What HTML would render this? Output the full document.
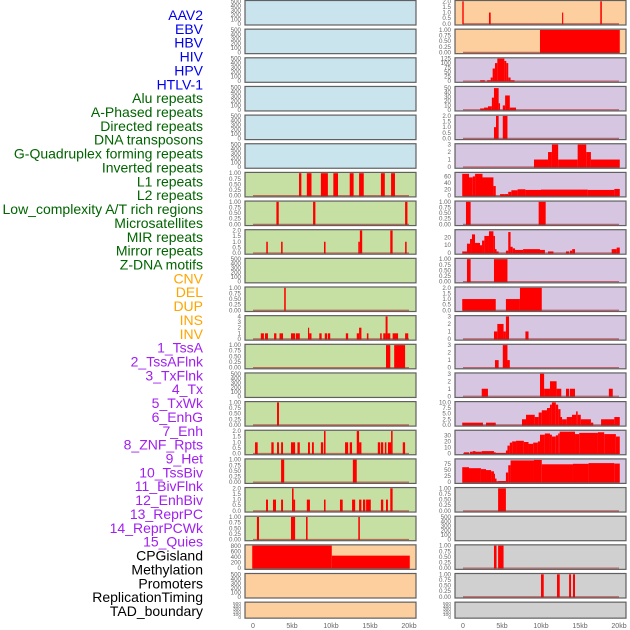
<!DOCTYPE html>
<html><head><meta charset="utf-8"><style>
body{margin:0;background:#fff;width:630px;height:630px;overflow:hidden}
svg{display:block;font-family:"Liberation Sans",sans-serif}
</style></head><body>
<svg id="c" width="630" height="630" xmlns="http://www.w3.org/2000/svg"></svg>
<script>
const labels=["AAV2","EBV","HBV","HIV","HPV","HTLV-1","Alu repeats","A-Phased repeats","Directed repeats","DNA transposons","G-Quadruplex forming repeats","Inverted repeats","L1 repeats","L2 repeats","Low_complexity A/T rich regions","Microsatellites","MIR repeats","Mirror repeats","Z-DNA motifs","CNV","DEL","DUP","INS","INV","1_TssA","2_TssAFlnk","3_TxFlnk","4_Tx","5_TxWk","6_EnhG","7_Enh","8_ZNF_Rpts","9_Het","10_TssBiv","11_BivFlnk","12_EnhBiv","13_ReprPC","14_ReprPCWk","15_Quies","CPGisland","Methylation","Promoters","ReplicationTiming","TAD_boundary"];
const labelColors=["#0000ee","#0000ee","#0000ee","#0000ee","#0000ee","#0000ee","#006400","#006400","#006400","#006400","#006400","#006400","#006400","#006400","#006400","#006400","#006400","#006400","#006400","#ffa500","#ffa500","#ffa500","#ffa500","#ffa500","#a020f0","#a020f0","#a020f0","#a020f0","#a020f0","#a020f0","#a020f0","#a020f0","#a020f0","#a020f0","#a020f0","#a020f0","#a020f0","#a020f0","#a020f0","#000","#000","#000","#000","#000"];
const bgKinds=["blue","blue","blue","blue","blue","blue","green","green","green","green","green","green","green","green","green","green","green","green","green","orange","orange","orange","orange","orange","purple","purple","purple","purple","purple","purple","purple","purple","purple","purple","purple","purple","purple","purple","purple","gray","gray","gray","gray","gray"];
const E=[0,100,200,300,400,500];
const U1=[0,0.25,0.5,0.75,1];
const U2=[0,0.5,1,1.5,2];
const tickSets=[E,E,E,E,E,E,U1,U1,U2,E,U1,[0,1,2,3,4],U1,E,U1,U2,U1,U2,U1,[0,200,400,600,800],E,E,
U2,U1,[0,25,50,75,100,125],[0,10,20,30,40,50],U2,[0,1,2,3],[0,20,40,60],U1,[0,10,20],U1,U2,[0,1,2,3],[0,1,2,3],[0,1,2,3],[0,2.5,5,7.5,10],[0,10,20,30],[0,25,50,75],U1,E,U1,U1,E];
const tickDigits=[0,0,0,0,0,0,2,2,1,0,2,0,2,0,2,1,2,1,2,0,0,0,1,2,0,0,1,0,0,2,0,2,1,0,0,0,1,0,0,2,0,2,2,0];
const yMax=[500,500,500,500,500,500,1,1,2,500,1,4,1,500,1,2,1,2,1,810,500,500,2,1,125,52,2,3,70,1,29,1,2,3,3,3,10,37,93,1,500,1,1,500];
const segs=[[],[],[],[],[],[],
[[5.9,6.2,1],[6.9,7.5,1],[8.7,9.6,1],[10.3,10.9,1],[12.4,12.9,1],[13.6,14.2,1],[16.4,16.9,1],[17.7,18.2,1]],
[[3.0,3.3,1],[7.7,8.0,1],[19.5,19.8,1]],
[[1.7,1.9,1],[3.6,3.8,1],[9.1,9.3,1],[13.5,13.7,1],[13.7,14.0,2],[17.6,17.9,2],[19.5,19.7,1]],
[],
[[4.0,4.2,1]],
[[1.0,1.4,1],[1.54,1.92,1],[2.7,3.0,1],[3.4,3.85,1],[4.87,5.4,1],[5.5,6.0,1],[7.05,7.2,2],[7.2,7.5,1],[8.5,8.8,1],[9.2,9.5,1],[9.6,9.9,1],[11.9,12.2,1],[13.3,13.6,1],[13.6,13.9,2],[14.6,14.8,1],[16.3,16.5,1],[16.7,17.0,1],[17.0,17.25,4],[17.25,17.6,1],[17.9,18.6,1],[19.5,19.9,1]],
[[17.05,17.6,1],[18.1,19.5,1]],
[],
[[3.08,3.33,1]],
[[0.26,0.6,1],[2.35,2.65,1],[3.08,3.33,1],[3.6,3.85,1],[4.87,5.4,1],[5.7,6.0,1],[7.05,7.3,1],[7.56,7.8,1],[8.7,9.0,1],[9.1,9.3,2],[11.8,12.2,1],[12.4,12.7,1],[13.3,13.6,2],[13.6,13.9,1],[16.0,16.3,1],[16.4,16.7,1],[16.9,17.1,1],[17.3,17.7,1],[17.7,17.9,2],[19.2,19.5,1]],
[[3.6,4.0,1],[12.8,13.3,1]],
[[1.67,1.92,1],[2.56,2.95,1],[3.6,3.85,1],[5.0,5.2,2],[5.2,5.4,1],[6.9,7.3,1],[9.1,9.3,1],[11.15,11.5,1],[12.7,13.1,1],[13.6,13.9,1],[14.1,14.4,1],[14.5,15.1,1],[16.4,16.7,1],[17.05,17.3,1],[17.6,17.9,2]],
[[0.5,0.77,1],[4.87,5.4,1],[6.8,7.0,1],[13.5,13.7,1]],
[[-0.1,10.1,810],[10.1,20.1,450]],
[],[],
[[-0.09,0.09,2],[3.33,3.55,1],[12.7,12.85,1],[17.6,17.8,2]],
[[9.87,20.1,1]],
[[2.2,2.8,5],[3.1,3.55,5],[3.55,3.8,20],[3.8,4.1,70],[4.1,4.4,100],[4.4,5.3,125],[5.3,5.55,112],[5.55,5.8,100],[5.8,6.1,20],[6.1,6.6,5]],
[[2.2,2.7,3],[2.7,3.2,5],[3.2,3.7,8],[3.7,3.97,28],[3.97,4.57,50],[4.57,4.75,15],[5.1,5.4,10],[5.4,6.0,33],[6.0,6.8,5]],
[[3.97,4.23,1],[4.23,4.57,2],[5.1,5.7,2]],
[[9.1,10.9,1],[10.9,11.4,2],[11.4,12.2,3],[12.2,14.7,1],[14.7,15.8,3],[15.8,16.4,2],[16.4,20.1,1]],
[[-0.1,0.77,68],[0.77,1.25,57],[1.25,1.55,60],[1.55,2.5,68],[2.5,3.9,57],[3.9,4.2,30],[4.75,5.3,5],[5.3,5.8,5],[5.8,6.2,12],[6.2,7.0,17],[7.0,8.0,20],[8.0,10.0,18],[10.0,16.0,19],[16.0,19.4,18],[19.4,20.1,21]],
[[0.38,0.98,1],[9.7,10.6,1]],
[[-0.1,0.51,2],[0.51,0.9,12],[0.9,1.15,18],[1.15,1.54,24],[1.54,2.18,13],[2.18,2.44,10],[2.44,2.74,16],[2.74,3.33,22],[3.33,3.9,28],[3.9,4.1,22],[4.1,4.3,5],[4.3,4.57,2],[5.5,5.8,3],[5.8,6.1,27],[6.1,6.37,8],[6.37,6.67,6],[6.67,7.7,4],[7.7,9.87,5],[9.87,10.5,4],[10.9,11.6,2],[13.2,13.6,2],[13.7,14.0,3],[14.0,14.36,5],[19.06,19.7,5],[19.7,20.1,7]],
[[0.51,0.98,1],[3.97,5.7,1]],
[[-0.1,4.2,1],[5.5,7.3,1],[7.3,10.1,2]],
[[3.97,4.4,1],[4.4,5.2,2],[5.2,5.5,1],[5.5,5.9,3],[8.0,8.4,1]],
[[4.1,4.57,1],[5.1,5.7,3],[5.7,6.0,1]],
[[2.4,3.2,1],[9.87,10.4,3],[10.4,11.15,1],[11.15,12.0,2],[12.0,12.6,1],[13.2,13.6,1],[13.7,14.36,1],[18.7,19.2,1]],
[[-0.1,2.56,1],[2.95,4.2,1],[7.56,8.08,2.5],[8.08,9.2,4.5],[9.2,9.7,3.5],[9.7,10.1,5.5],[10.1,10.77,6.5],[10.77,11.15,7.5],[11.15,11.4,9],[11.4,11.9,10],[11.9,12.2,9],[12.2,12.5,7],[12.5,12.7,3.5],[12.7,13.3,2.5],[13.3,13.97,3.5],[13.97,14.5,4.5],[14.5,14.7,6],[14.7,15.1,4.5],[15.1,16.4,2.5],[16.4,16.7,1],[17.7,19.4,2.5],[19.4,20.1,3.5]],
[[0.13,0.77,2],[0.9,1.25,3],[1.25,1.6,4],[1.6,2.4,3],[2.4,3.97,4],[3.97,4.2,2],[4.2,5.5,1],[5.5,5.7,5],[5.7,6.0,13],[6.0,6.3,18],[6.3,6.8,20],[6.8,7.8,21],[7.8,8.4,19],[8.4,9.0,16],[9.0,9.6,18],[9.6,9.87,20],[9.87,10.5,31],[10.5,11.15,33],[11.15,11.4,31],[11.4,11.9,28],[11.9,12.2,30],[12.2,12.4,33],[12.4,14.36,36],[14.36,14.9,32],[14.9,17.3,34],[17.3,18.1,35],[18.1,19.6,32],[19.6,20.1,28]],
[[-0.1,0.77,62],[0.77,2.3,58],[2.3,2.95,54],[2.95,3.6,50],[3.6,3.97,45],[3.97,4.1,35],[4.1,4.3,15],[4.3,4.5,4],[4.5,5.5,5],[5.5,5.8,40],[5.8,6.1,70],[6.1,9.1,90],[9.1,10.1,92],[10.1,14.1,74],[14.1,16.1,76],[16.1,19.4,79],[19.4,20.1,77]],
[[4.5,5.5,1]],
[],
[[3.97,4.3,1],[4.5,5.2,1]],
[[10.0,10.35,1],[12.05,12.4,1],[13.6,13.85,1],[14.1,14.36,1]],
[]];
const xTicks=[0,5,10,15,20];
const xTickLabels=["0","5kb","10kb","15kb","20kb"];

const NS="http://www.w3.org/2000/svg";
const svg=document.getElementById('c');
const BG={blue:"#c9e4ec",green:"#c6e0a3",orange:"#fdcf9f",purple:"#d6c6e2",gray:"#d0d0d0"};
function mk(t,a,p){const e=document.createElementNS(NS,t);for(const k in a)e.setAttribute(k,a[k]);(p||svg).appendChild(e);return e;}
const STEP=28.65;
labels.forEach((l,i)=>{
  const t=mk('text',{x:203,y:15+i*13.86+5,'text-anchor':'end','font-size':14,fill:labelColors[i]});
  t.textContent=l;
  
  
});
function xScale(col,kb){return (col?463:253)+kb*7.8;}
labels.forEach((l,i)=>{
  const col=i<22?0:1, row=i%22;
  const px=col?455:245, pw=171;
  const top=row*STEP+0.5, h=row===21?16:24.5;
  const g=mk('g',{});
  
  
  mk('rect',{x:px,y:top,width:pw,height:h,fill:BG[bgKinds[i]]},g);
  const y0=top+h-1.2, y1=top+0.8, ym=yMax[i];
  const ys=v=>y0-(v/ym)*(y0-y1);
  segs[i].forEach(s=>{
    const x1=Math.max(px,xScale(col,s[0])), x2=Math.min(px+pw,xScale(col,s[1]));
    const r=mk('rect',{x:x1,y:Math.max(top,ys(s[2])),width:Math.max(0.8,x2-x1),height:y0-Math.max(top,ys(s[2]))+0.5,fill:"#ff0000"},g);
    
    
  });
  if(segs[i].length){
    mk('line',{x1:xScale(col,0),x2:xScale(col,20),y1:y0,y2:y0,stroke:"#b02020",'stroke-opacity':0.6,'stroke-width':1.3},g);
  }
  mk('rect',{x:px,y:top,width:pw,height:h,fill:"none",stroke:"#606060",'stroke-width':1.2},g);
  const tk=tickSets[i];
  tk.forEach((v,j)=>{
    const yy=tk===E?y0-(j/(tk.length-1))*(y0-y1):ys(v);
    const t=mk('text',{x:px-4,y:yy+2,'text-anchor':'end','font-size':h<20?4.8:6.2,fill:"#666"},g);
    t.textContent=v.toFixed(tickDigits[i]);
    
    
  });
});
[0,1].forEach(col=>{
  xTicks.forEach((v,j)=>{
    const t=mk('text',{x:xScale(col,v),y:628,'text-anchor':'middle','font-size':7,fill:"#666"});
    t.textContent=xTickLabels[j];
    
    
  });
});
</script>
</body></html>
